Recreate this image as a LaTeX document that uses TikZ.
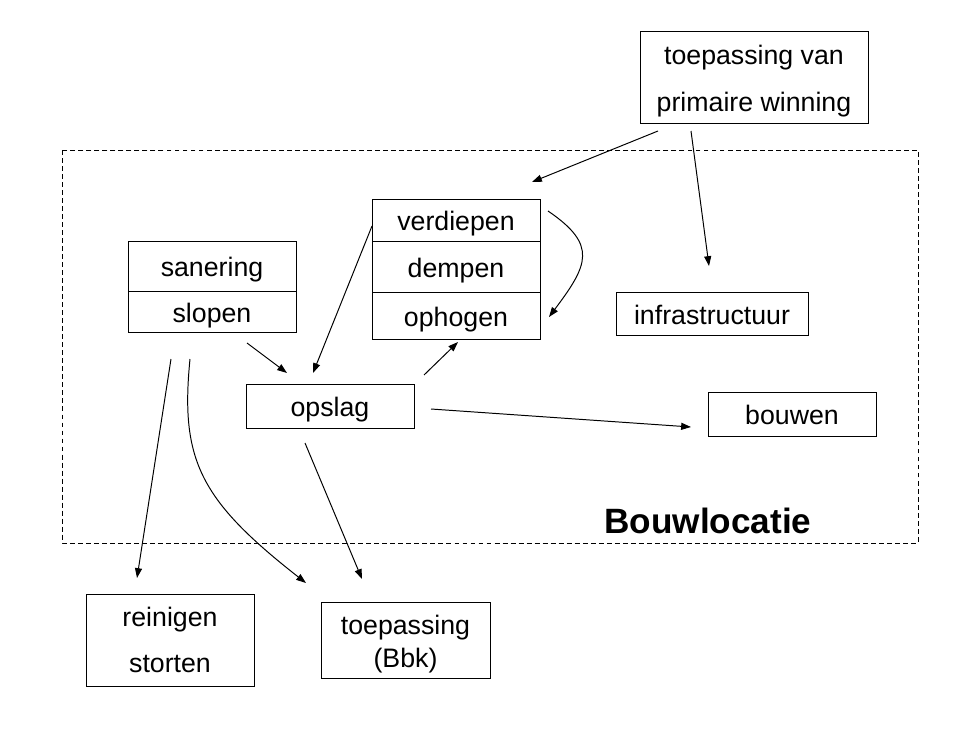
\documentclass[tikz,border=0pt]{standalone}
\usepackage{fontspec}
\setmainfont{Liberation Sans}
\usepackage{tikz}
\usetikzlibrary{arrows.meta}

\newcommand{\pxl}{0.025cm}

\begin{document}
\begin{tikzpicture}[x=0.025cm, y=-0.025cm, line width=0.7pt,
        box/.style={draw=black, inner sep=0pt, minimum width={168*\pxl}, align=center,
                    text height=15.4pt, text depth=0pt,
                    font=\fontsize{19}{33}\selectfont},
        pijl/.style={-{Triangle[length=7pt, width=5pt]}}]
    \useasboundingbox (0,0) rectangle (968,730);

    % bouwlocatie
    \draw[dash pattern=on 3.5pt off 2.2pt] (62,150) rectangle (918,543);
    \node[font=\fontsize{25}{30}\selectfont\bfseries] (loc) at (708,521) {Bouwlocatie};

    % boxes
    \node[box, minimum width={228*\pxl}, minimum height={92*\pxl}, text height=48.4pt] (prim) at (754,77) {toepassing van\\primaire winning};
    \node[box, minimum height={42*\pxl}] (verd) at (456,220) {verdiepen};
    \node[box, minimum height={51*\pxl}] (demp) at (456,266.5) {dempen};
    \node[box, minimum height={47*\pxl}] (opho) at (456,315.5) {ophogen};
    \node[box, minimum height={50*\pxl}] (san) at (212,266) {sanering};
    \node[box, minimum height={41*\pxl}] (slop) at (212,311.5) {slopen};
    \node[box, minimum width={192*\pxl}, minimum height={43*\pxl}] (infra) at (712,313.5) {infrastructuur};
    \node[box, minimum height={44*\pxl}] (opsl) at (330,406) {opslag};
    \node[box, minimum height={44*\pxl}] (bouw) at (792,414) {bouwen};
    \node[box, minimum height={92*\pxl}, text height=46.7pt] (rein) at (170,640) {reinigen\\storten};
    \node[box, minimum width={169*\pxl}, minimum height={76*\pxl}, text height=38.4pt,
          font=\fontsize{19}{23.4}\selectfont] (bbk) at (405.5,640) {toepassing\\(Bbk)};

    % loose arrow ends
    \coordinate (prim-a) at (658,131);
    \coordinate (prim-b) at (691,131);
    \coordinate (verd-in) at (532,182);
    \coordinate (infra-in) at (709,266);
    \coordinate (verd-r) at (548,211);
    \coordinate (opho-r) at (549,317);
    \coordinate (verd-l) at (372,226);
    \coordinate (opsl-ina) at (313,373);
    \coordinate (slop-out) at (247,343);
    \coordinate (opsl-inb) at (287,373);
    \coordinate (opsl-up) at (424,375);
    \coordinate (opho-in) at (458,342);
    \coordinate (opsl-r) at (431,409);
    \coordinate (bouw-in) at (691,427);
    \coordinate (opsl-d) at (305,443);
    \coordinate (bbk-a) at (362,579);
    \coordinate (slop-a) at (171,359);
    \coordinate (rein-in) at (137,578);
    \coordinate (slop-b) at (190,359);
    \coordinate (bbk-b) at (306,583);

    % connectors
    \draw[pijl] (prim-a) -- (verd-in);
    \draw[pijl] (prim-b) -- (infra-in);
    \draw[pijl] (verd-r) .. controls (598,245) and (588,265) .. (opho-r);
    \draw[pijl] (verd-l) -- (opsl-ina);
    \draw[pijl] (slop-out) -- (opsl-inb);
    \draw[pijl] (opsl-up) -- (opho-in);
    \draw[pijl] (opsl-r) -- (bouw-in);
    \draw[pijl] (opsl-d) -- (bbk-a);
    \draw[pijl] (slop-a) -- (rein-in);
    \draw[pijl] (slop-b) .. controls (180,460) and (200,500) .. (bbk-b);
\end{tikzpicture}
\end{document}
